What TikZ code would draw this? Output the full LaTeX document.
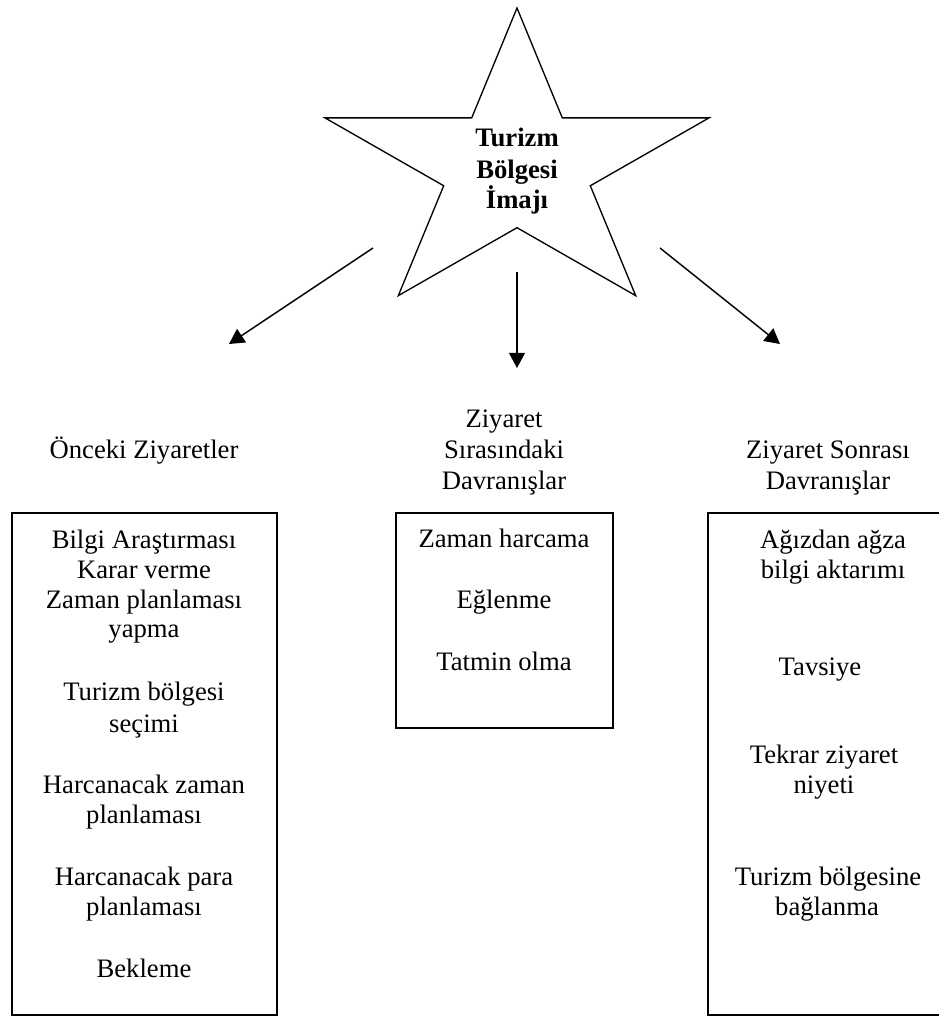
\documentclass[tikz,border=0pt]{standalone}
\usepackage{fontspec}
\setmainfont{Liberation Serif}
\usetikzlibrary{arrows.meta,shapes.geometric,fit}
\begin{document}
\begin{tikzpicture}[x=0.45pt, y=-0.45pt,
  txt/.style={anchor=base, inner sep=0pt, font=\fontsize{12}{13.8}\selectfont},
  ttl/.style={anchor=base, inner sep=0pt, font=\fontsize{12}{13.8}\selectfont\bfseries},
  boxframe/.style={draw, line width=0.9pt, inner sep=0pt},
  arr/.style={line width=0.65pt, -{Triangle[width=7.2pt,length=6.8pt]}}]
\useasboundingbox (0,0) rectangle (939,1017);
\clip (0,0) rectangle (939,1017);

% central star, stretched sideways
\begin{scope}[shift={(517,167)}, xscale=1.27]
  \node[star, star points=5, star point ratio=2.62, minimum size=143.1pt,
        inner sep=0pt, draw, line width=0.6pt, transform shape] (star) at (0,0) {};
\end{scope}
\node[ttl] (s1) at (517,146) {Turizm};
\node[ttl] (s2) at (517,178) {Bölgesi};
\node[ttl] (s3) at (517,208) {İmajı};

% arrows out of the star
\coordinate (a1s) at (373,248);
\coordinate (a1e) at (229,344);
\coordinate (a2s) at (517,272);
\coordinate (a2e) at (517,368);
\coordinate (a3s) at (660,248);
\coordinate (a3e) at (780,344);
\draw[arr] (a1s) -- (a1e);
\draw[arr] (a2s) -- (a2e);
\draw[arr] (a3s) -- (a3e);

% column headings
\node[txt] (h1) at (144,458) {Önceki Ziyaretler};
\node[txt] (h2a) at (504,427) {Ziyaret};
\node[txt] (h2b) at (504,458) {Sırasındaki};
\node[txt] (h2c) at (504,489) {Davranışlar};
\node[txt] (h3a) at (828,458) {Ziyaret Sonrası};
\node[txt] (h3b) at (828,489) {Davranışlar};

% boxes
\node[boxframe, fit={(12,513) (277,1015)}] (boxL) {};
\node[boxframe, fit={(396,513) (613,728)}] (boxM) {};
\node[boxframe, fit={(708,513) (950,1015)}] (boxR) {};

% left box contents
\node[txt] (l1) at (144,548) {Bilgi Araştırması};
\node[txt] (l2) at (144,578) {Karar verme};
\node[txt] (l3) at (144,608) {Zaman planlaması};
\node[txt] (l4) at (144,637) {yapma};
\node[txt] (l5) at (144,700) {Turizm bölgesi};
\node[txt] (l6) at (144,732) {seçimi};
\node[txt] (l7) at (144,793) {Harcanacak zaman};
\node[txt] (l8) at (144,823) {planlaması};
\node[txt] (l9) at (144,885) {Harcanacak para};
\node[txt] (l10) at (144,915) {planlaması};
\node[txt] (l11) at (144,977) {Bekleme};

% middle box contents
\node[txt] (m1) at (504,547) {Zaman harcama};
\node[txt] (m2) at (504,608) {Eğlenme};
\node[txt] (m3) at (504,670) {Tatmin olma};

% right box contents
\node[txt] (r1) at (833,548) {Ağızdan ağza};
\node[txt] (r2) at (833,578) {bilgi aktarımı};
\node[txt] (r3) at (820,675) {Tavsiye};
\node[txt] (r4) at (824,763) {Tekrar ziyaret};
\node[txt] (r5) at (824,793) {niyeti};
\node[txt] (r6) at (828,885) {Turizm bölgesine};
\node[txt] (r7) at (827,915) {bağlanma};
\end{tikzpicture}
\end{document}
